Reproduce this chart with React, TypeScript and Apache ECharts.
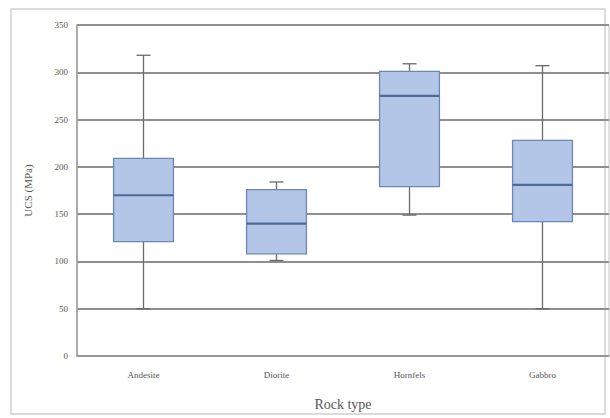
import React, { useEffect, useRef } from "react";
import * as echarts from "echarts";

const categories = ["Andesite", "Diorite", "Hornfels", "Gabbro"];
// [min, Q1, median, Q3, max]
const minValues = [50, 101, 149, 50];
const q1Values = [121, 108, 179, 142];
const medianValues = [170, 140, 275, 181];
const q3Values = [209, 176, 301, 228];
const maxValues = [318, 184, 309, 307];
const yTicks = [0, 50, 100, 150, 200, 250, 300, 350];

const FONT = "'Liberation Serif', 'DejaVu Serif', 'Times New Roman', serif";

export default function App() {
  const ref = useRef<HTMLDivElement>(null);
  useEffect(() => {
    if (!ref.current) return;
    const chart = echarts.init(ref.current, undefined, { renderer: "svg" });
    const data = categories.map((_, i) => [
      i,
      minValues[i],
      q1Values[i],
      medianValues[i],
      q3Values[i],
      maxValues[i],
    ]);
    const renderItem = (params: any, api: any) => {
      const x = api.value(0);
      const pMin = api.coord([x, api.value(1)]);
      const pQ1 = api.coord([x, api.value(2)]);
      const pMed = api.coord([x, api.value(3)]);
      const pQ3 = api.coord([x, api.value(4)]);
      const pMax = api.coord([x, api.value(5)]);
      const bw = api.size([1, 0])[0] * 0.45;
      const cx = pMed[0];
      const capW = 14;
      const whisker = { stroke: "#6a6a6a", lineWidth: 1.3 };
      return {
        type: "group",
        children: [
          { type: "line", shape: { x1: cx, y1: pQ3[1], x2: cx, y2: pMax[1] }, style: whisker },
          { type: "line", shape: { x1: cx, y1: pMin[1], x2: cx, y2: pQ1[1] }, style: whisker },
          { type: "line", shape: { x1: cx - capW / 2, y1: pMax[1], x2: cx + capW / 2, y2: pMax[1] }, style: whisker },
          { type: "line", shape: { x1: cx - capW / 2, y1: pMin[1], x2: cx + capW / 2, y2: pMin[1] }, style: whisker },
          {
            type: "rect",
            shape: { x: cx - bw / 2, y: pQ3[1], width: bw, height: pQ1[1] - pQ3[1] },
            style: { fill: "#b3c6e7", stroke: "#6d87b5", lineWidth: 1.3 },
          },
          {
            type: "line",
            shape: { x1: cx - bw / 2, y1: pMed[1], x2: cx + bw / 2, y2: pMed[1] },
            style: { stroke: "#4f6a97", lineWidth: 2.2 },
          },
        ],
      };
    };
    chart.setOption({
      animation: false,
      backgroundColor: "#ffffff",
      textStyle: { fontFamily: FONT },
      graphic: [
        {
          type: "rect",
          shape: { x: 11, y: 9, width: 594, height: 405 },
          style: { fill: "none", stroke: "#d0d0d0", lineWidth: 1.5 },
          z: -1,
        },
      ],
      grid: {
        left: 77,
        right: 1,
        top: 25,
        bottom: 62,
        show: true,
        borderColor: "#c4c4c4",
        borderWidth: 1,
      },
      xAxis: {
        type: "category",
        data: categories,
        boundaryGap: true,
        name: "Rock type",
        nameLocation: "middle",
        nameGap: 41,
        nameTextStyle: { fontFamily: FONT, fontSize: 14, color: "#555" },
        axisLine: { lineStyle: { color: "#9a9a9a", width: 1.5 } },
        axisTick: { show: false },
        axisLabel: { fontFamily: FONT, fontSize: 9, color: "#555", margin: 14 },
        splitLine: { show: false },
      },
      yAxis: {
        type: "value",
        min: yTicks[0],
        max: yTicks[yTicks.length - 1],
        interval: 50,
        name: "UCS (MPa)",
        nameLocation: "middle",
        nameGap: 44,
        nameTextStyle: { fontFamily: FONT, fontSize: 11, color: "#555" },
        axisLine: { show: true, lineStyle: { color: "#9a9a9a", width: 1.5 } },
        axisTick: { show: false },
        axisLabel: { fontFamily: FONT, fontSize: 9, color: "#555", margin: 9 },
        splitLine: { show: true, lineStyle: { color: "#8f8f8f", width: 2 } },
      },
      series: [
        {
          type: "custom",
          renderItem,
          data,
          encode: { x: 0, y: [1, 2, 3, 4, 5] },
          z: 3,
        },
      ],
    });
    return () => chart.dispose();
  }, []);
  return (
    <div
      ref={ref}
      style={{ position: "fixed", left: 0, top: 0, width: 610, height: 418 }}
    />
  );
}
